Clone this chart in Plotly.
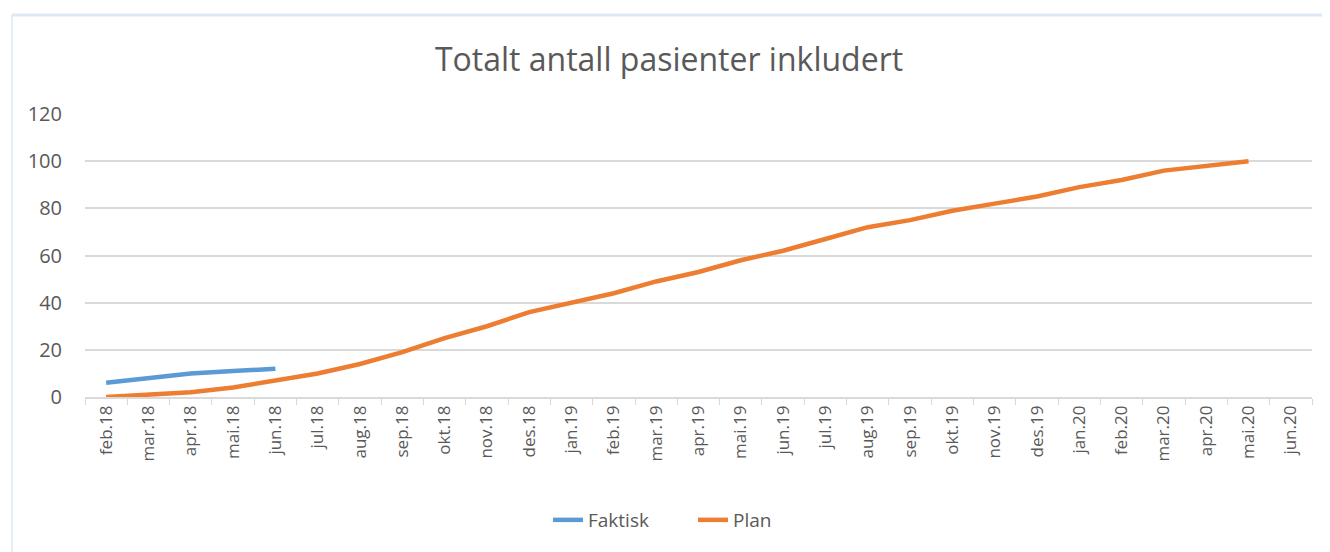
import plotly.graph_objects as go

months = ["feb.18","mar.18","apr.18","mai.18","jun.18","jul.18","aug.18","sep.18","okt.18","nov.18","des.18",
          "jan.19","feb.19","mar.19","apr.19","mai.19","jun.19","jul.19","aug.19","sep.19","okt.19","nov.19","des.19",
          "jan.20","feb.20","mar.20","apr.20","mai.20","jun.20"]
faktisk = [6, 8, 10, 11, 12]
plan = [0, 1, 2, 4, 7, 10, 14, 19, 25, 30, 36, 40, 44, 49, 53, 58, 62, 67, 72, 75, 79, 82, 85, 89, 92, 96, 98, 100]
y_ticks = [0, 20, 40, 60, 80, 100, 120]

txt = "#595959"
W, H = 1322, 544          # page body has an 8px margin
L, R, T, B = 77, 18, 106, 155
pw, ph = W - L - R, H - T - B

fig = go.Figure()
fig.add_trace(go.Scatter(x=months[:len(faktisk)], y=faktisk, name="Faktisk", mode="lines",
                         line=dict(color="#5b9bd5", width=4.5)))
fig.add_trace(go.Scatter(x=months[:len(plan)], y=plan, name="Plan", mode="lines",
                         line=dict(color="#ed7d31", width=4.5)))

def px_x(p):  # page pixel -> paper x
    return (p - 8 - L) / pw

def px_y(p):  # page pixel -> paper y
    return (H - B - (p - 8)) / ph

fig.update_layout(
    width=W, height=H,
    margin=dict(l=L, r=R, t=T, b=B),
    paper_bgcolor="white", plot_bgcolor="white",
    font=dict(family="Open Sans, sans-serif", color=txt, size=17),
    title=dict(text="Totalt antall pasienter inkludert", x=0.5, xanchor="center",
               y=1 - (60 - 8) / H, yanchor="middle", font=dict(size=32, color=txt)),
    showlegend=True,
    legend=dict(orientation="h", x=px_x(548), xanchor="left", y=px_y(520), yanchor="middle",
                font=dict(size=19, color=txt), entrywidth=100),
    xaxis=dict(type="category", categoryorder="array", categoryarray=months,
               range=[-0.5, len(months) - 0.5], tickangle=-90,
               showgrid=False, showline=True, linecolor="#d9d9d9", linewidth=1.5,
               ticks="outside", tickson="boundaries", ticklen=6, tickcolor="#d9d9d9",
               tickfont=dict(size=17, color=txt)),
    yaxis=dict(range=[0, 120], tickvals=y_ticks, showgrid=True, gridcolor="#d9d9d9", gridwidth=1.5,
               zeroline=False, showline=False, ticks="", ticklabelstandoff=22,
               tickfont=dict(size=20, color=txt)),
    shapes=[
        dict(type="line", xref="paper", yref="paper", x0=px_x(12), x1=px_x(1340),
             y0=px_y(15), y1=px_y(15), line=dict(color="#dde8f4", width=3)),
        dict(type="line", xref="paper", yref="paper", x0=px_x(12), x1=px_x(12),
             y0=px_y(15), y1=px_y(560), line=dict(color="#dde8f4", width=1.5)),
    ],
)
fig.write_html("out.html")
